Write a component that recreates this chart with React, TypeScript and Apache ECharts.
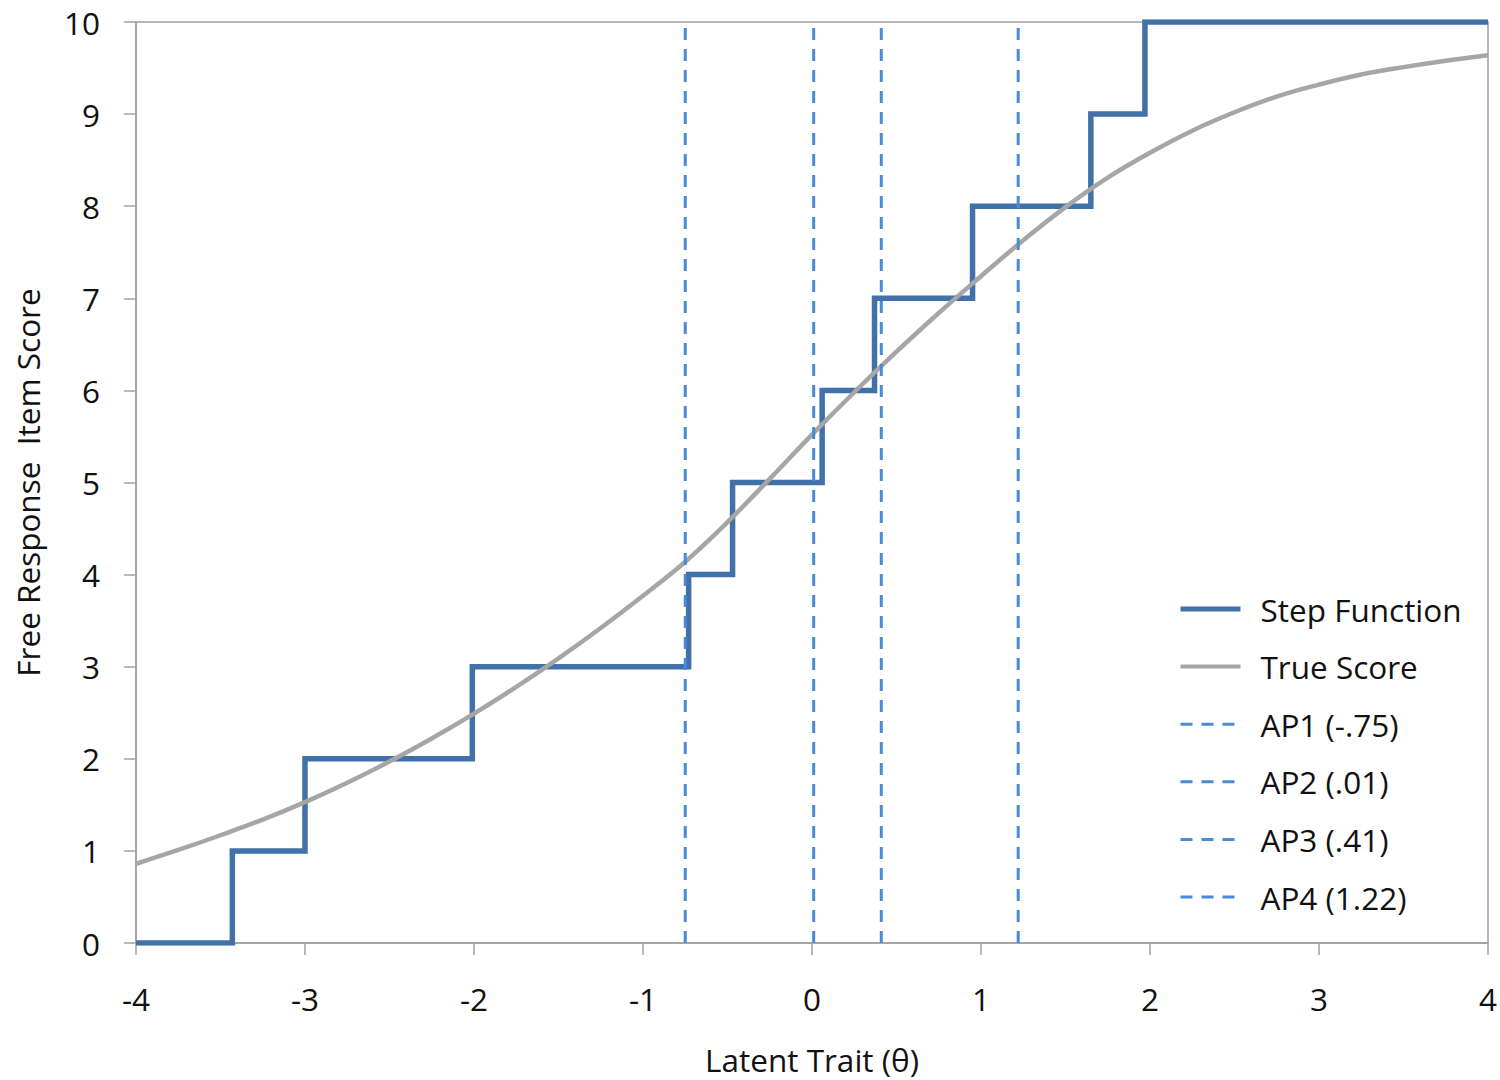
import React, { useEffect, useRef } from "react";
import * as echarts from "echarts";

// Step function: score jumps at these theta thresholds
const stepThresholds = [-3.43, -3.0, -2.01, -0.73, -0.47, 0.06, 0.37, 0.95, 1.65, 1.97];
const stepScores = [0, 1, 2, 3, 4, 5, 6, 7, 8, 9, 10];

// True score curve
const trueTheta = [-4, -3.75, -3.5, -3.25, -3, -2.75, -2.5, -2.25, -2, -1.75, -1.5, -1.25, -1, -0.75, -0.5, -0.25, 0, 0.25, 0.5, 0.75, 1, 1.25, 1.5, 1.75, 2, 2.25, 2.5, 2.75, 3, 3.25, 3.5, 3.75, 4];
const trueScore = [0.86, 1.01, 1.17, 1.34, 1.53, 1.74, 1.97, 2.22, 2.49, 2.78, 3.09, 3.42, 3.77, 4.14, 4.57, 5.04, 5.52, 5.98, 6.42, 6.84, 7.24, 7.63, 7.99, 8.31, 8.58, 8.82, 9.02, 9.19, 9.32, 9.43, 9.51, 9.58, 9.64];

// Anchor points (vertical dashed lines)
const apNames = ["AP1 (-.75)", "AP2 (.01)", "AP3 (.41)", "AP4 (1.22)"];
const apValues = [-0.75, 0.01, 0.41, 1.22];

const xTicks = [-4, -3, -2, -1, 0, 1, 2, 3, 4];
const yTicks = [0, 1, 2, 3, 4, 5, 6, 7, 8, 9, 10];

const FONT = "Open Sans";
const FS = 31.5;
const TXT = "#111111";
const STEP_COLOR = "#4270A8";
const TRUE_COLOR = "#A6A6A6";
const AP_COLOR = "#4A8AD8";
const AXIS_COLOR = "#A0A0A0";

export default function App() {
  const ref = useRef<HTMLDivElement>(null);
  useEffect(() => {
    if (!ref.current) return;
    const chart = echarts.init(ref.current, undefined, { renderer: "svg" });

    const stepData: number[][] = [[xTicks[0], stepScores[0]]];
    stepThresholds.forEach((t, i) => {
      stepData.push([t, stepScores[i]]);
      stepData.push([t, stepScores[i + 1]]);
    });
    stepData.push([xTicks[xTicks.length - 1], stepScores[stepScores.length - 1]]);

    const trueData = trueTheta.map((t, i) => [t, trueScore[i]]);

    const apLine = { color: AP_COLOR, width: 3, type: [12, 9] };
    const apSeries = apValues.map((v, i) => ({
      name: apNames[i],
      type: "line",
      data: [
        [v, yTicks[0]],
        [v, yTicks[yTicks.length - 1]],
      ],
      symbol: "none",
      lineStyle: apLine,
      itemStyle: { color: AP_COLOR },
    }));

    chart.setOption({
      animation: false,
      backgroundColor: "#ffffff",
      textStyle: { fontFamily: FONT },
      grid: {
        left: 136,
        right: 12,
        top: 22,
        bottom: 137,
        show: true,
        borderColor: AXIS_COLOR,
        borderWidth: 1.5,
      },
      legend: {
        orient: "vertical",
        left: 1178,
        top: 593,
        padding: 0,
        itemWidth: 60,
        itemHeight: 20,
        itemGap: 25.6,
        itemStyle: { opacity: 0 },
        textStyle: { fontFamily: FONT, fontSize: FS, color: TXT, padding: [0, 0, 0, 15] },
        data: [
          { name: "Step Function", lineStyle: { color: STEP_COLOR, width: 5 } },
          { name: "True Score", lineStyle: { color: TRUE_COLOR, width: 4 } },
          ...apNames.map((n) => ({ name: n, lineStyle: apLine })),
        ],
      },
      xAxis: {
        type: "value",
        min: -4,
        max: 4,
        interval: 1,
        name: "Latent Trait (θ)",
        nameLocation: "middle",
        nameGap: 100,
        nameTextStyle: { fontFamily: FONT, fontSize: FS, color: TXT },
        axisLine: { show: true, onZero: false, lineStyle: { color: AXIS_COLOR, width: 1.5 } },
        axisTick: { show: true, length: 12, lineStyle: { color: AXIS_COLOR, width: 1.5 } },
        axisLabel: { fontFamily: FONT, fontSize: FS, color: TXT, margin: 39 },
        splitLine: { show: false },
      },
      yAxis: {
        type: "value",
        min: 0,
        max: 10,
        interval: 1,
        name: "Free Response  Item Score",
        nameLocation: "middle",
        nameGap: 93,
        nameTextStyle: { fontFamily: FONT, fontSize: FS, color: TXT },
        axisLine: { show: true, onZero: false, lineStyle: { color: AXIS_COLOR, width: 1.5 } },
        axisTick: { show: true, length: 12, lineStyle: { color: AXIS_COLOR, width: 1.5 } },
        axisLabel: { fontFamily: FONT, fontSize: FS, color: TXT, margin: 36 },
        splitLine: { show: false },
      },
      series: [
        {
          name: "Step Function",
          type: "line",
          data: stepData,
          symbol: "none",
          lineStyle: { color: STEP_COLOR, width: 5.5, join: "miter" },
          itemStyle: { color: STEP_COLOR },
        },
        {
          name: "True Score",
          type: "line",
          data: trueData,
          smooth: 0.4,
          symbol: "none",
          lineStyle: { color: TRUE_COLOR, width: 4.5 },
          itemStyle: { color: TRUE_COLOR },
        },
        ...apSeries,
      ],
    });
    return () => chart.dispose();
  }, []);
  return (
    <div
      ref={ref}
      style={{ position: "fixed", left: 0, top: 0, width: 1500, height: 1080, background: "#fff" }}
    />
  );
}
